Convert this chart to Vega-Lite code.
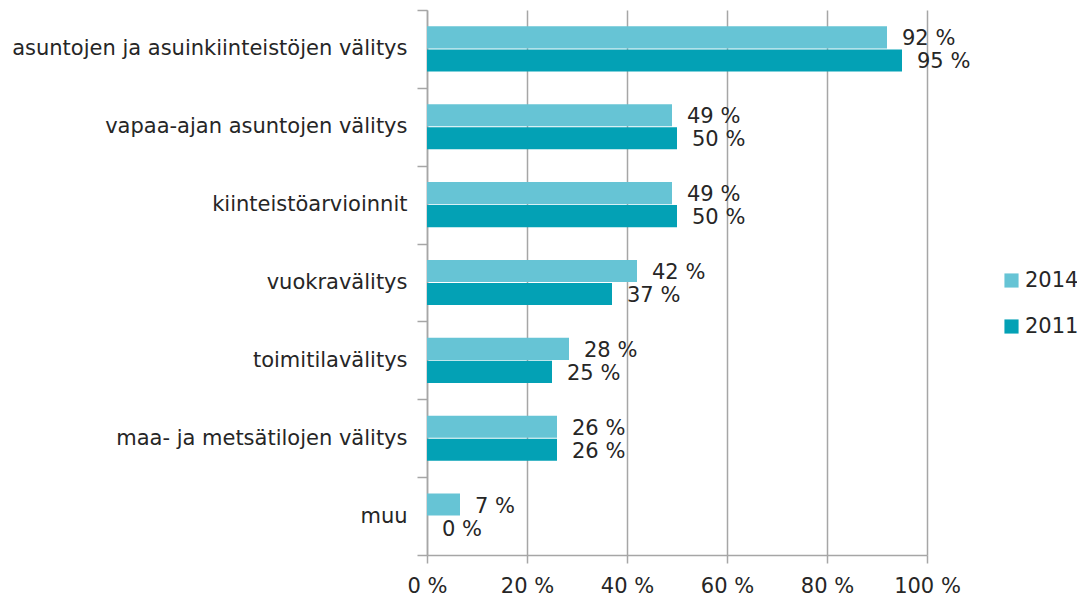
{
  "$schema": "https://vega.github.io/schema/vega-lite/v6.json",
  "autosize": {"type": "none"},
  "width": 500,
  "height": 545,
  "padding": {"left": 427, "top": 10, "right": 150, "bottom": 47},
  "background": "white",
  "data": {"values": [
    {"category": "asuntojen ja asuinkiinteistöjen välitys", "year": "2014", "value": 92},
    {"category": "asuntojen ja asuinkiinteistöjen välitys", "year": "2011", "value": 95},
    {"category": "vapaa-ajan asuntojen välitys", "year": "2014", "value": 49},
    {"category": "vapaa-ajan asuntojen välitys", "year": "2011", "value": 50},
    {"category": "kiinteistöarvioinnit", "year": "2014", "value": 49},
    {"category": "kiinteistöarvioinnit", "year": "2011", "value": 50},
    {"category": "vuokravälitys", "year": "2014", "value": 42},
    {"category": "vuokravälitys", "year": "2011", "value": 37},
    {"category": "toimitilavälitys", "year": "2014", "value": 28.4},
    {"category": "toimitilavälitys", "year": "2011", "value": 25},
    {"category": "maa- ja metsätilojen välitys", "year": "2014", "value": 26},
    {"category": "maa- ja metsätilojen välitys", "year": "2011", "value": 26},
    {"category": "muu", "year": "2014", "value": 6.6},
    {"category": "muu", "year": "2011", "value": 0}
  ]},
  "transform": [{"calculate": "format(round(datum.value), 'd') + ' %'", "as": "label"}],
  "encoding": {
    "y": {
      "field": "category", "type": "nominal", "sort": null,
      "scale": {"paddingInner": 0, "paddingOuter": 0},
      "axis": {
        "title": null, "labelFont": "DejaVu Sans", "labelFontSize": 21, "labelColor": "#262626",
        "labelPadding": 10, "tickBand": "extent", "tickSize": 10, "tickColor": "#A6A6A6", "tickWidth": 1.5,
        "domainColor": "#A6A6A6", "domainWidth": 1.5, "grid": false, "labelLimit": 500
      }
    },
    "yOffset": {"field": "year", "type": "nominal", "sort": ["2014", "2011"], "scale": {"paddingInner": 0.04, "paddingOuter": 0.71}},
    "x": {
      "field": "value", "type": "quantitative",
      "scale": {"domain": [0, 100], "nice": false},
      "axis": {
        "title": null, "values": [0, 20, 40, 60, 80, 100], "labelExpr": "datum.value + ' %'",
        "labelFont": "DejaVu Sans", "labelFontSize": 21, "labelColor": "#262626", "labelPadding": 12,
        "tickSize": 8, "tickColor": "#A6A6A6", "tickWidth": 1.5, "domainColor": "#A6A6A6", "domainWidth": 1.5,
        "grid": true, "gridColor": "#A6A6A6", "gridWidth": 1.5, "labelFlush": false
      }
    }
  },
  "layer": [
    {
      "mark": {"type": "bar"},
      "encoding": {
        "color": {
          "field": "year", "type": "nominal",
          "scale": {"domain": ["2014", "2011"], "range": ["#66C4D5", "#03A1B5"]},
          "legend": {
            "title": null, "orient": "none", "legendX": 574, "legendY": 260,
            "symbolType": "square", "symbolSize": 200, "symbolStrokeWidth": 0,
            "labelFont": "DejaVu Sans", "labelFontSize": 21, "labelColor": "#262626",
            "rowPadding": 24, "labelOffset": 3
          }
        }
      }
    },
    {
      "mark": {"type": "text", "align": "left", "baseline": "middle", "dx": 15, "dy": 2, "font": "DejaVu Sans", "fontSize": 21, "color": "#262626"},
      "encoding": {"text": {"field": "label"}}
    }
  ],
  "config": {"view": {"stroke": null}}
}
